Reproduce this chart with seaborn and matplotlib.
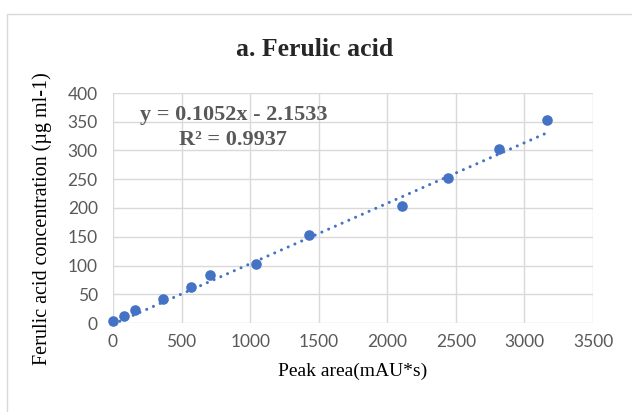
import numpy as np
import pandas as pd
import seaborn as sns
import matplotlib.pyplot as plt
from matplotlib.patches import Rectangle

# calibration data
peak_area = [0, 80, 158, 364, 568, 707, 1046, 1432, 2108, 2443, 2814, 3166]
concentration = [3, 13, 22, 42, 62, 83, 102, 153, 204, 253, 303, 353]
slope = 0.1052
intercept = -2.1533
r_squared = 0.9937

x_ticks = [0, 500, 1000, 1500, 2000, 2500, 3000, 3500]
y_ticks = [0, 50, 100, 150, 200, 250, 300, 350, 400]

df = pd.DataFrame({'area': peak_area, 'conc': concentration})
fit_x = np.array([min(peak_area), max(peak_area)])
fit = pd.DataFrame({'area': fit_x, 'conc': slope * fit_x + intercept})

sns.set_theme(style='white')
blue = '#4472C4'
gray = '#595959'

fig = plt.figure(figsize=(6.32, 4.12), dpi=100)
ax = fig.add_axes([113 / 632, (412 - 323) / 412, 480 / 632, 230 / 412])

# chart frame
fig.patches.append(Rectangle((7 / 632, -0.1), 1.0, (412 - 14) / 412 + 0.1,
                             transform=fig.transFigure, fill=False,
                             edgecolor='#d9d9d9', linewidth=1.0))

# trendline
sns.lineplot(data=fit, x='area', y='conc', ax=ax, color=blue, linewidth=2.2,
             linestyle=(0, (0.01, 2.4)), dash_capstyle='round', zorder=2)
sns.scatterplot(data=df, x='area', y='conc', ax=ax, color=blue, s=58,
                linewidth=0, zorder=3)
for c in ax.collections:
    c.set_clip_on(False)

ax.set_xlim(0, 3500)
ax.set_ylim(0, 400)
ax.set_xticks(x_ticks)
ax.set_yticks(y_ticks)
ax.grid(True, color='#d9d9d9', linewidth=1.0)
ax.set_axisbelow(True)
for s in ax.spines.values():
    s.set_visible(False)
ax.tick_params(axis='both', length=0, labelcolor=gray, labelsize=12.5)
ax.tick_params(axis='x', pad=8)
ax.tick_params(axis='y', pad=11)
for lab in ax.get_xticklabels() + ax.get_yticklabels():
    lab.set_family('Lato')

ax.set_xlabel('Peak area(mAU*s)', family='Liberation Serif', fontsize=14,
              color='black', labelpad=9)
ax.set_ylabel('Ferulic acid concentration (µg ml-1)', family='Liberation Serif',
              fontsize=14.5, color='black')
ax.yaxis.set_label_coords(-0.127, 0.455)

fig.text(315 / 632, 1 - 50 / 412, 'a. Ferulic acid', family='Liberation Serif',
         fontsize=18.5, fontweight='bold', ha='center', va='center')

ax.text(878, 362, f'y = {slope}x - {abs(intercept)}', family='Liberation Serif',
        fontsize=16, fontweight='bold', color=gray, ha='center', va='center')
ax.text(878, 319, f'R² = {r_squared}', family='Liberation Serif',
        fontsize=16, fontweight='bold', color=gray, ha='center', va='center')

fig.savefig('out.png', dpi=100)
